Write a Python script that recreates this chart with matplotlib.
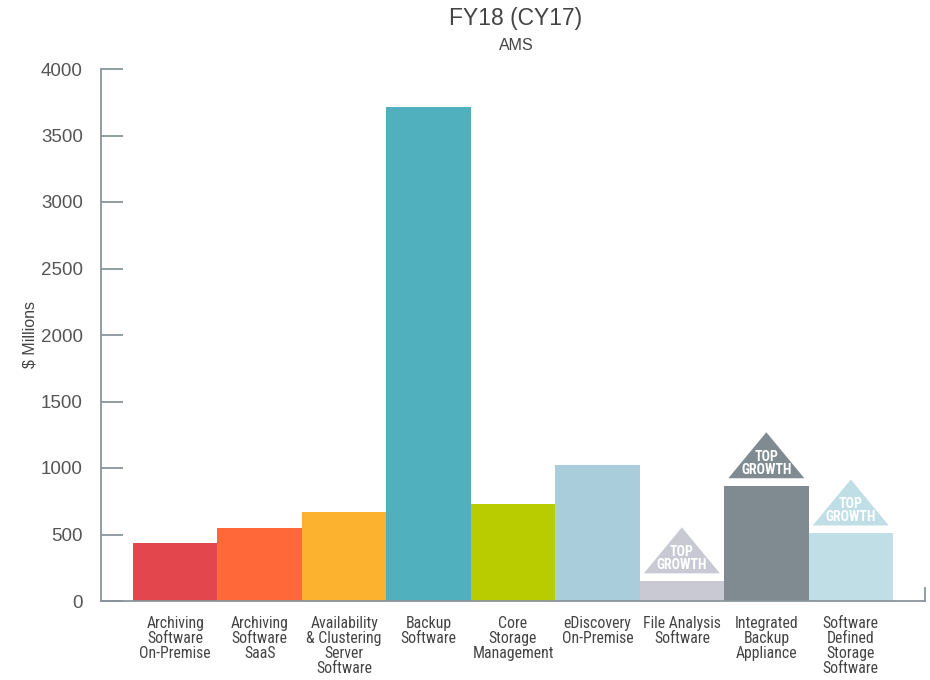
import numpy as np
import matplotlib.pyplot as plt

# FY18 (CY17) AMS revenue by market segment
categories = ["Archiving\nSoftware\nOn-Premise", "Archiving\nSoftware\nSaaS",
              "Availability\n& Clustering\nServer\nSoftware", "Backup\nSoftware",
              "Core\nStorage\nManagement", "eDiscovery\nOn-Premise",
              "File Analysis\nSoftware", "Integrated\nBackup\nAppliance",
              "Software\nDefined\nStorage\nSoftware"]
values = [435, 550, 670, 3715, 730, 1025, 150, 865, 510]
colors = ["#E3464C", "#FF6838", "#FDB22F", "#50B0BE", "#B9CC00",
          "#AACDDC", "#C8C9D3", "#7F8B90", "#BFDEE5"]
top_growth = [6, 7, 8]

narrow = ["Roboto Condensed", "Liberation Sans Narrow", "Liberation Sans"]
plt.rcParams["font.family"] = ["Liberation Sans", "DejaVu Sans"]

fig = plt.figure(figsize=(9.3, 6.8), dpi=100)
ax = fig.add_axes([101/930, 79/680, 824/930, 532/680])

x = np.arange(len(values))
ax.bar(x, values, width=1.0, color=colors, zorder=2)

# "TOP GROWTH" flags above selected bars
tri_w, tri_h, gap = 0.9, 346, 58
for i in top_growth:
    base = values[i] + gap
    ax.fill([i - tri_w/2, i + tri_w/2, i], [base, base, base + tri_h],
            color=colors[i], lw=0, zorder=3)
    ax.text(i, base + tri_h*0.33, "TOP\nGROWTH", ha="center", va="center",
            color="white", fontsize=10, fontweight="bold", family=narrow,
            linespacing=0.9, zorder=4)

ax.set_xlim(-0.879, 8.879)
ax.set_ylim(0, 4000)
ax.set_yticks(np.arange(0, 4001, 500))
ax.set_xticks(x)
ax.set_xticklabels(categories, family=narrow, fontsize=11.3, color="#444444",
                   linespacing=0.98)
ax.tick_params(axis="x", length=0, pad=11)
ax.tick_params(axis="y", direction="in", length=16, width=1.3, color="#8A9499",
               labelsize=13.5, labelcolor="#555555", pad=13)

spine_c = "#8A9499"
ax.spines["top"].set_visible(False)
for s in ["left", "bottom", "right"]:
    ax.spines[s].set_color(spine_c)
    ax.spines[s].set_linewidth(1.3)
ax.spines["right"].set_bounds(0, 100)

ax.set_ylabel("$ Millions", fontsize=11.5, color="#444444")
ax.yaxis.set_label_coords(-0.077, 0.5)

fig.text(516/930, 1 - 19/680, "FY18 (CY17)", ha="center", va="center",
         fontsize=16.5, color="#444444")
fig.text(516/930, 1 - 46/680, "AMS", ha="center", va="center",
         fontsize=11.5, color="#444444")

fig.savefig("out.png", dpi=100)
